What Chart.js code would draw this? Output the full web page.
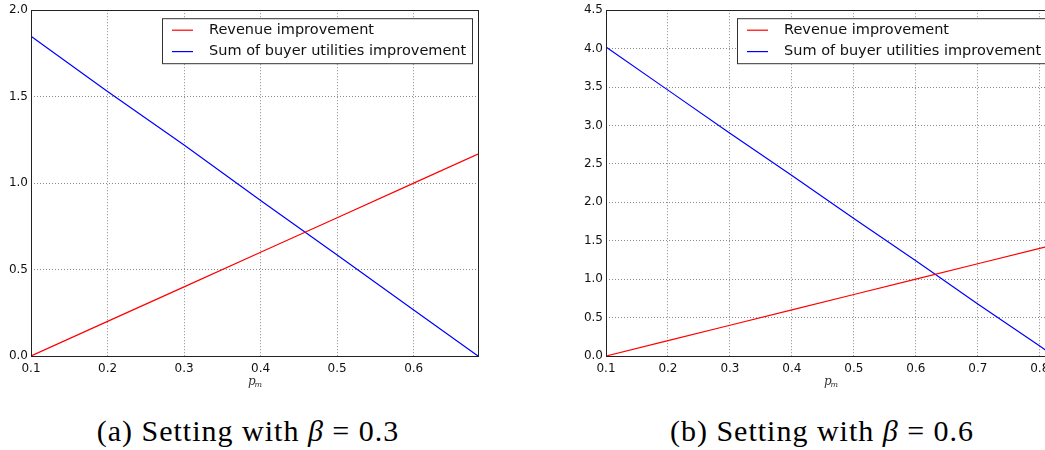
<!DOCTYPE html>
<html>
<head>
<meta charset="utf-8">
<script src="https://cdn.jsdelivr.net/npm/chart.js@4.4.1/dist/chart.umd.min.js"></script>
<style>
  html, body { margin: 0; padding: 0; background: #fff; overflow: hidden; }
  body { width: 1045px; height: 450px; position: relative; }
  .box { position: absolute; top: 0; height: 400px; }
  #boxA { left: 0; width: 520px; }
  #boxB { left: 520px; width: 540px; }
  .caption {
    position: absolute; top: 414px; font-family: "Liberation Serif", serif;
    font-size: 30px; letter-spacing: 1px; color: #000; white-space: nowrap; transform: translateX(-50%);
  }
  .caption i { font-style: italic; }
</style>
</head>
<body>
<div class="box" id="boxA"><canvas id="chartA" width="520" height="400"></canvas></div>
<div class="box" id="boxB"><canvas id="chartB" width="540" height="400"></canvas></div>
<div class="caption" style="left:248px">(a) Setting with <i>β</i> = 0.3</div>
<div class="caption" style="left:822px">(b) Setting with <i>β</i> = 0.6</div>

<script>
// beta = 0.3
const pmA = [0.1, 0.2, 0.3, 0.4, 0.5, 0.6, 0.684];
const revenueA = [0, 0.2, 0.4, 0.6, 0.8, 1.0, 1.168];
const buyersA = [1.85, 1.53, 1.22, 0.90, 0.584, 0.266, 0];
const xTicksA = [0.1, 0.2, 0.3, 0.4, 0.5, 0.6];
const yTicksA = [0.0, 0.5, 1.0, 1.5, 2.0];

// beta = 0.6
const pmB = [0.1, 0.2, 0.3, 0.4, 0.5, 0.6, 0.7, 0.8, 0.823];
const revenueB = [0, 0.2, 0.4, 0.6, 0.8, 1.0, 1.2, 1.4, 1.446];
const buyersB = [4.02, 3.46, 2.90, 2.35, 1.79, 1.24, 0.676, 0.13, 0];
const xTicksB = [0.1, 0.2, 0.3, 0.4, 0.5, 0.6, 0.7, 0.8];
const yTicksB = [0.0, 0.5, 1.0, 1.5, 2.0, 2.5, 3.0, 3.5, 4.0, 4.5];

const seriesNames = ['Revenue improvement', 'Sum of buyer utilities improvement'];
const seriesColors = ['#ff0000', '#0000ff'];

const tickFont = { family: 'DejaVu Sans', size: 12 };

// frame around the plot area + boxed legend in the upper right + p_m axis label
const framePlugin = {
  id: 'frame',
  afterDraw(chart, args, opts) {
    const { ctx, chartArea: a } = chart;
    ctx.save();
    ctx.strokeStyle = '#222';
    ctx.lineWidth = 1;
    ctx.strokeRect(Math.round(a.left) + 0.5, Math.round(a.top) + 0.5,
                   Math.round(a.right - a.left), Math.round(a.bottom - a.top));

    // legend
    const lx = opts.legendLeft, ly = a.top + 8;
    ctx.fillStyle = '#fff';
    ctx.fillRect(lx, ly, opts.legendWidth, 45);
    ctx.strokeStyle = '#333';
    ctx.strokeRect(lx + 0.5, ly + 0.5, opts.legendWidth, 45);
    ctx.font = '14.5px "DejaVu Sans"';
    ctx.textBaseline = 'middle';
    seriesNames.forEach((name, i) => {
      const y = ly + 12 + i * 21.4;
      ctx.strokeStyle = seriesColors[i];
      ctx.lineWidth = 1.2;
      ctx.beginPath();
      ctx.moveTo(lx + 10, y);
      ctx.lineTo(lx + 31, y);
      ctx.stroke();
      ctx.fillStyle = '#111';
      ctx.fillText(name, lx + 47, y);
    });

    // x axis label p_m
    const cx = opts.labelCenter;
    ctx.fillStyle = '#333';
    ctx.textBaseline = 'alphabetic';
    ctx.font = 'italic 12px "DejaVu Serif"';
    ctx.fillText('p', cx - 6, a.bottom + 29);
    ctx.font = 'italic 8px "DejaVu Serif"';
    ctx.fillText('m', cx + 0.5, a.bottom + 31);
    ctx.restore();
  }
};

function makeChart(id, xs, rev, buy, xTicks, yTicks, xMax, yMax, yWidth, padRight, legendLeft, legendWidth) {
  const toPts = vals => vals.map((v, i) => ({ x: xs[i], y: v }));
  const gridOpts = { color: '#8a8a8a', drawTicks: false, lineWidth: 1 };
  const borderOpts = { display: false, dash: [1, 2] };
  return new Chart(document.getElementById(id), {
    type: 'line',
    data: {
      datasets: [
        { label: seriesNames[0], data: toPts(rev), borderColor: seriesColors[0], borderWidth: 1.2, pointRadius: 0, tension: 0 },
        { label: seriesNames[1], data: toPts(buy), borderColor: seriesColors[1], borderWidth: 1.2, pointRadius: 0, tension: 0 }
      ]
    },
    options: {
      responsive: false,
      animation: false,
      layout: { padding: { top: 10, right: padRight, left: 0, bottom: 0 } },
      plugins: {
        legend: { display: false },
        tooltip: { enabled: false },
        frame: { legendLeft: legendLeft, legendWidth: legendWidth, labelCenter: 0 }
      },
      scales: {
        x: {
          type: 'linear', min: 0.1, max: xMax,
          afterBuildTicks: s => { s.ticks = xTicks.map(v => ({ value: v })); },
          afterFit: s => { s.height = 44; },
          grid: gridOpts,
          border: borderOpts,
          ticks: { font: tickFont, color: '#111', padding: 6, maxRotation: 0, autoSkip: false,
                   callback: v => v.toFixed(1) }
        },
        y: {
          type: 'linear', min: 0, max: yMax,
          afterBuildTicks: s => { s.ticks = yTicks.map(v => ({ value: v })); },
          afterFit: s => { s.width = yWidth; },
          grid: gridOpts,
          border: borderOpts,
          ticks: { font: tickFont, color: '#111', padding: 3, callback: v => v.toFixed(1) }
        }
      }
    },
    plugins: [framePlugin]
  });
}

const chartA = makeChart('chartA', pmA, revenueA, buyersA, xTicksA, yTicksA, 0.684, 2.0, 31, 42, 162, 310);
chartA.options.plugins.frame.labelCenter = 254;
chartA.update();

const chartB = makeChart('chartB', pmB, revenueB, buyersB, xTicksB, yTicksB, 0.823, 4.5, 86, 6, 217, 320);
chartB.options.plugins.frame.labelCenter = 310;
chartB.update();
</script>
</body>
</html>
